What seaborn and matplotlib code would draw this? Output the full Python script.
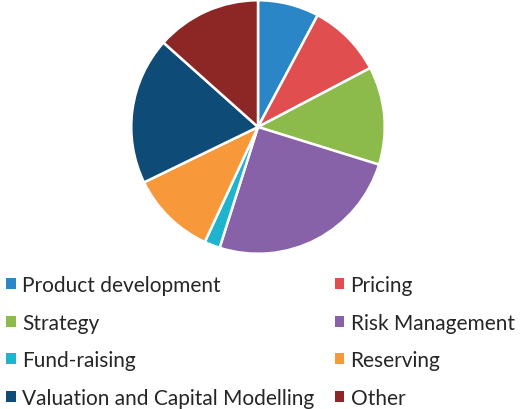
import matplotlib.pyplot as plt
import seaborn as sns
from matplotlib.patches import Patch

categorias = ["Product development", "Pricing", "Strategy", "Risk Management",
              "Fund-raising", "Reserving", "Valuation and Capital Modelling", "Other"]
porcentajes = [7.8, 9.5, 12.5, 25.1, 2.0, 10.9, 18.8, 13.4]
colores = ["#2B86C7", "#E04E4F", "#8CBB4C", "#8762A8",
           "#1FB4CE", "#F7983A", "#0F4B77", "#8C2726"]

sns.set_theme(style="white")
plt.rcParams["font.family"] = ["Lato", "DejaVu Sans"]

fig = plt.figure(figsize=(5.2, 4.1), dpi=100)
fig.set_facecolor("white")
ax = fig.add_axes([130 / 520, 154 / 410, 256 / 520, 256 / 410])

paleta = sns.color_palette(colores)
ax.pie(porcentajes, colors=paleta, startangle=90, counterclock=False,
       wedgeprops={"edgecolor": "white", "linewidth": 1.8})
ax.set_xlim(-1.01, 1.01)
ax.set_ylim(-1.01, 1.01)
ax.set_aspect("equal")

# leyenda en dos columnas, orden por filas
orden = [0, 2, 4, 6, 1, 3, 5, 7]
handles = [Patch(facecolor=paleta[i], edgecolor="none") for i in orden]
labels = [categorias[i] for i in orden]
fig.legend(handles, labels, ncol=2, loc="upper left",
           bbox_to_anchor=(0.0, 1 - 270 / 410), frameon=False,
           fontsize=15, handlelength=0.45, handleheight=0.45,
           handletextpad=0.3, labelspacing=0.84, columnspacing=1.0,
           borderaxespad=0, borderpad=0.3)

fig.savefig("out.png", dpi=100, facecolor="white")
